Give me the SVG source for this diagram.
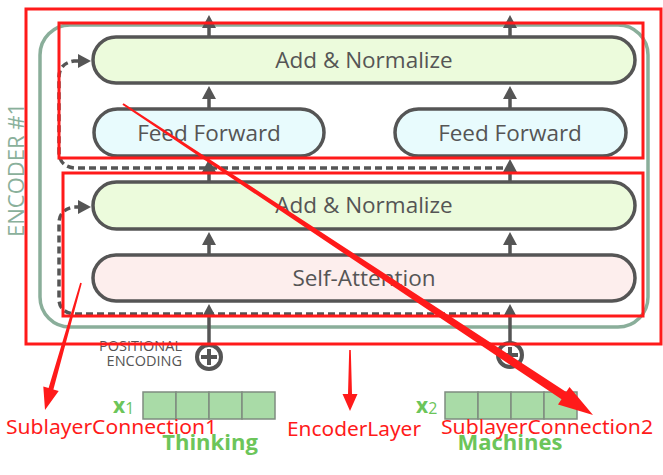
<svg xmlns="http://www.w3.org/2000/svg" width="663" height="475" viewBox="0 0 663 475">
<defs>
<style>
.box{stroke:#555;stroke-width:3.5}
.lbl{font-family:"Open Sans","Noto Sans",sans-serif;font-size:22.5px;font-weight:500;fill:#555;text-anchor:middle}
.arr{stroke:#555;stroke-width:3.5;fill:none}
.dash{stroke:#555;stroke-width:3.5;fill:none;stroke-dasharray:7 4}
.red{stroke:#ff1a1a;stroke-width:3;fill:none}
.rtxt{font-family:"Noto Sans","Open Sans",sans-serif;font-size:20px;fill:#ff1a1a}
.grn{font-family:"Open Sans","Noto Sans",sans-serif;fill:#6cc55a;font-weight:bold}
.cell{fill:#a9dba7;stroke:#7f8c80;stroke-width:1.5}
</style>
<marker id="ah" markerUnits="userSpaceOnUse" markerWidth="14" markerHeight="14" refX="9" refY="7" orient="auto">
<path d="M0,0 L13,7 L0,14 z" fill="#555"/>
</marker>
</defs>

<g id="encoder">
<rect x="40" y="25" width="608" height="302" rx="30" fill="none" stroke="#8aae9a" stroke-width="3.5"/>
<text x="24" y="170" transform="rotate(-90 24 170)" font-family="'Open Sans','Noto Sans',sans-serif" font-size="22" fill="#8ab09b" text-anchor="middle">ENCODER #1</text>
</g>

<g id="addnorm2">
<rect class="box" x="93" y="37" width="542" height="46" rx="23" fill="#ecfbdc"/>
<text class="lbl" x="364" y="68">Add &amp; Normalize</text>
</g>
<g id="ff1">
<rect class="box" x="94" y="109" width="230" height="47" rx="23.5" fill="#e8fbfd"/>
<text class="lbl" x="209" y="141">Feed Forward</text>
</g>
<g id="ff2">
<rect class="box" x="395" y="109" width="231" height="47" rx="23.5" fill="#e8fbfd"/>
<text class="lbl" x="510" y="141">Feed Forward</text>
</g>
<g id="addnorm1">
<rect class="box" x="93" y="182" width="542" height="47" rx="23.5" fill="#ecfbdc"/>
<text class="lbl" x="364" y="213">Add &amp; Normalize</text>
</g>
<g id="selfatt">
<rect class="box" x="93" y="255" width="542" height="46" rx="23" fill="#fdeeed"/>
<text class="lbl" x="364" y="286">Self-Attention</text>
</g>

<g id="posenc">
<text font-family="'Open Sans','Noto Sans',sans-serif" font-size="14.5" fill="#555" text-anchor="end">
<tspan x="182" y="351">POSITIONAL</tspan><tspan x="182" y="366">ENCODING</tspan></text>
</g>
<g id="plus1">
<circle cx="209" cy="357" r="12" fill="#fff" stroke="#555" stroke-width="4"/>
<path d="M201,357 H217 M209,349 V365" stroke="#555" stroke-width="4"/>
</g>
<g id="plus2">
<circle cx="510" cy="355" r="12" fill="#fff" stroke="#555" stroke-width="4"/>
<path d="M502,355 H518 M510,347 V363" stroke="#555" stroke-width="4"/>
</g>

<g id="x1">
<rect class="cell" x="143" y="392" width="33" height="27"/>
<rect class="cell" x="176" y="392" width="33" height="27"/>
<rect class="cell" x="209" y="392" width="33" height="27"/>
<rect class="cell" x="242" y="392" width="33" height="27"/>
<text class="grn" x="113" y="413" font-size="21">x<tspan font-size="16" font-weight="normal" dy="1">1</tspan></text>
<text class="grn" x="210" y="450" font-size="22" text-anchor="middle">Thinking</text>
</g>
<g id="x2">
<rect class="cell" x="445" y="392" width="33" height="27"/>
<rect class="cell" x="478" y="392" width="33" height="27"/>
<rect class="cell" x="511" y="392" width="33" height="27"/>
<rect class="cell" x="544" y="392" width="33" height="27"/>
<text class="grn" x="416" y="413" font-size="21">x<tspan font-size="16" font-weight="normal" dy="1">2</tspan></text>
<text class="grn" x="510" y="450" font-size="22" text-anchor="middle">Machines</text>
</g>

<g id="connectors">
<path class="arr" marker-end="url(#ah)" d="M209,37 V19"/>
<path class="arr" marker-end="url(#ah)" d="M510,37 V19"/>
<path class="arr" marker-end="url(#ah)" d="M209,109 V90"/>
<path class="arr" marker-end="url(#ah)" d="M510,109 V90"/>
<path class="arr" marker-end="url(#ah)" d="M209,182 V163"/>
<path class="arr" marker-end="url(#ah)" d="M510,182 V163"/>
<path class="arr" marker-end="url(#ah)" d="M209,255 V236"/>
<path class="arr" marker-end="url(#ah)" d="M510,255 V236"/>
<path class="arr" marker-end="url(#ah)" d="M209,345 V308"/>
<path class="arr" marker-end="url(#ah)" d="M510,343 V308"/>
<path class="dash" marker-end="url(#ah)" d="M503,168 H75 Q60,167 59,153 V76 Q60,63 74,61 H87"/>
<path class="dash" stroke="#777" marker-end="url(#ah)" d="M500,314 H75 Q60,313 59,300 V222 Q60,209 74,207 H87"/>
</g>

<g id="annotations">
<rect class="red" x="26" y="9" width="635" height="335"/>
<rect class="red" x="59" y="23" width="584" height="135"/>
<rect class="red" x="63" y="173" width="580" height="143"/>
<polygon fill="#ff1a1a" points="81.8,283.2 53.4,389.5 58.7,391 45,410 43.3,386.6 48.6,388.1 80.2,282.8"/>
<polygon fill="#ff1a1a" points="350.8,350 352,394 357.5,394 350,411 342.5,394 348,394 349.2,350"/>
<polygon fill="#ff1a1a" points="123.6,103.2 566.2,392 569.5,387 593,415 558,404.5 561.5,399.3 122.4,104.8"/>
<text class="rtxt" x="6" y="434" textLength="211" lengthAdjust="spacingAndGlyphs">SublayerConnection1</text>
<text class="rtxt" x="287" y="436" textLength="134" lengthAdjust="spacingAndGlyphs">EncoderLayer</text>
<text class="rtxt" x="441" y="434" textLength="212" lengthAdjust="spacingAndGlyphs">SublayerConnection2</text>
</g>
</svg>
